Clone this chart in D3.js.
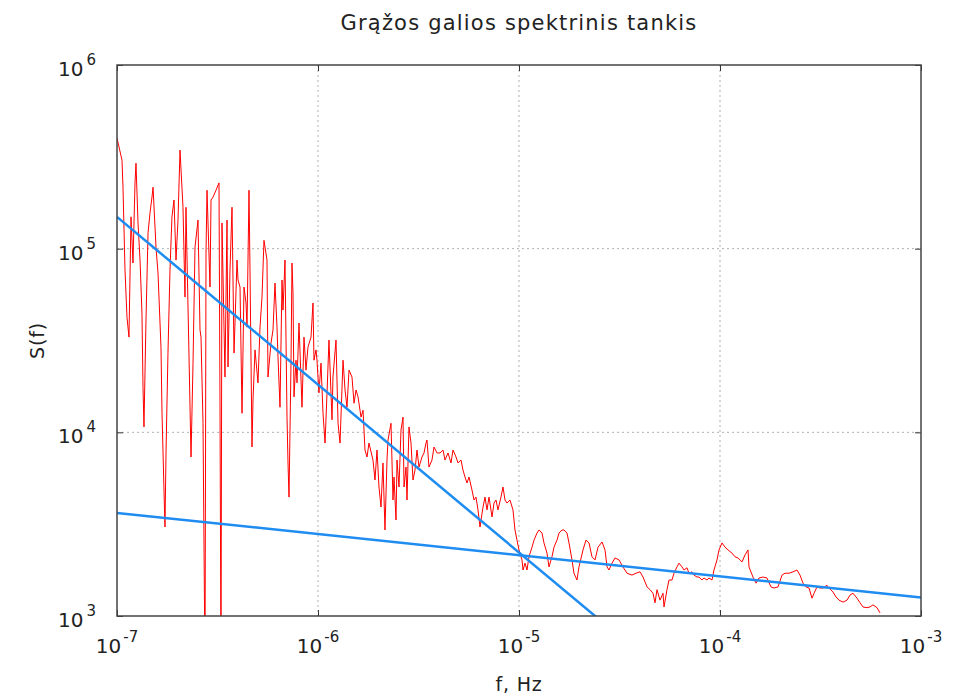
<!DOCTYPE html>
<html>
<head>
<meta charset="utf-8">
<script src="https://cdn.jsdelivr.net/npm/d3@7"></script>
<style>
  body { margin: 0; background: #fff; }
  text { font-family: "DejaVu Sans", Verdana, sans-serif; fill: #222; }
</style>
</head>
<body>
<div class="chart"></div>
<script>
// Spectrum (f in Hz, S(f))
var specFreq = [
  1.000e-7, 1.059e-7, 1.071e-7, 1.096e-7, 1.121e-7, 1.147e-7, 1.174e-7, 1.201e-7, 1.229e-7, 1.243e-7,
  1.272e-7, 1.302e-7, 1.331e-7, 1.347e-7, 1.362e-7, 1.394e-7, 1.427e-7, 1.459e-7, 1.493e-7, 1.511e-7,
  1.563e-7, 1.600e-7, 1.655e-7, 1.675e-7, 1.713e-7, 1.733e-7, 1.753e-7, 1.793e-7, 1.835e-7, 1.877e-7,
  1.921e-7, 1.966e-7, 2.011e-7, 2.058e-7, 2.130e-7, 2.179e-7, 2.204e-7, 2.282e-7, 2.335e-7, 2.389e-7,
  2.444e-7, 2.529e-7, 2.588e-7, 2.618e-7, 2.679e-7, 2.741e-7, 2.772e-7, 2.804e-7, 2.902e-7, 2.936e-7,
  3.004e-7, 3.108e-7, 3.217e-7, 3.253e-7, 3.291e-7, 3.329e-7, 3.445e-7, 3.526e-7, 3.566e-7, 3.649e-7,
  3.734e-7, 3.821e-7, 3.954e-7, 4.000e-7, 4.093e-7, 4.188e-7, 4.284e-7, 4.384e-7, 4.435e-7, 4.537e-7,
  4.589e-7, 4.695e-7, 4.750e-7, 4.860e-7, 5.029e-7, 5.146e-7, 5.265e-7, 5.386e-7, 5.575e-7, 5.639e-7,
  5.836e-7, 5.972e-7, 6.110e-7, 6.252e-7, 6.324e-7, 6.471e-7, 6.621e-7, 6.697e-7, 6.852e-7, 7.012e-7,
  7.092e-7, 7.174e-7, 7.340e-7, 7.424e-7, 7.510e-7, 7.596e-7, 7.771e-7, 7.861e-7, 8.043e-7, 8.325e-7,
  8.517e-7, 8.715e-7, 8.917e-7, 9.230e-7, 9.443e-7, 9.552e-7, 9.773e-7, 9.886e-7, 1.011e-6, 1.035e-6,
  1.059e-6, 1.084e-6, 1.109e-6, 1.134e-6, 1.174e-6, 1.187e-6, 1.229e-6, 1.258e-6, 1.287e-6, 1.332e-6,
  1.363e-6, 1.394e-6, 1.427e-6, 1.476e-6, 1.511e-6, 1.546e-6, 1.582e-6, 1.637e-6, 1.675e-6, 1.713e-6,
  1.753e-6, 1.793e-6, 1.877e-6, 1.921e-6, 1.966e-6, 2.011e-6, 2.058e-6, 2.105e-6, 2.154e-6, 2.204e-6,
  2.230e-6, 2.308e-6, 2.361e-6, 2.389e-6, 2.444e-6, 2.472e-6, 2.529e-6, 2.588e-6, 2.648e-6, 2.679e-6,
  2.741e-6, 2.772e-6, 2.836e-6, 2.902e-6, 2.969e-6, 3.038e-6, 3.108e-6, 3.180e-6, 3.291e-6, 3.368e-6,
  3.445e-6, 3.485e-6, 3.566e-6, 3.691e-6, 3.777e-6, 3.909e-6, 4.046e-6, 4.188e-6, 4.284e-6, 4.435e-6,
  4.589e-6, 4.695e-6, 4.860e-6, 4.973e-6, 5.146e-6, 5.265e-6, 5.386e-6, 5.511e-6, 5.639e-6, 5.836e-6,
  5.972e-6, 6.110e-6, 6.252e-6, 6.397e-6, 6.621e-6, 6.774e-6, 6.931e-6, 7.092e-6, 7.340e-6, 7.510e-6,
  7.684e-6, 7.861e-6, 8.135e-6, 8.325e-6, 8.517e-6, 8.715e-6, 9.020e-6, 9.334e-6, 9.552e-6, 9.773e-6,
  1.000e-5, 1.035e-5, 1.047e-5, 1.071e-5, 1.096e-5, 1.121e-5, 1.161e-5, 1.188e-5, 1.229e-5, 1.258e-5,
  1.302e-5, 1.331e-5, 1.378e-5, 1.410e-5, 1.459e-5, 1.493e-5, 1.546e-5, 1.582e-5, 1.637e-5, 1.675e-5,
  1.733e-5, 1.773e-5, 1.835e-5, 1.877e-5, 1.943e-5, 1.988e-5, 2.082e-5, 2.154e-5, 2.230e-5, 2.308e-5,
  2.389e-5, 2.472e-5, 2.588e-5, 2.679e-5, 2.741e-5, 2.804e-5, 2.902e-5, 3.004e-5, 3.145e-5, 3.291e-5,
  3.445e-5, 3.649e-5, 3.821e-5, 4.000e-5, 4.140e-5, 4.335e-5, 4.486e-5, 4.642e-5, 4.750e-5, 4.860e-5,
  5.029e-5, 5.205e-5, 5.265e-5, 5.448e-5, 5.575e-5, 5.770e-5, 5.904e-5, 6.110e-5, 6.252e-5, 6.471e-5,
  6.621e-5, 6.852e-5, 7.012e-5, 7.256e-5, 7.424e-5, 7.684e-5, 7.861e-5, 8.135e-5, 8.325e-5, 8.615e-5,
  8.816e-5, 9.124e-5, 9.334e-5, 9.663e-5, 9.886e-5, 1.023e-4, 1.059e-4, 1.096e-4, 1.147e-4, 1.188e-4,
  1.229e-4, 1.287e-4, 1.332e-4, 1.378e-4, 1.394e-4, 1.459e-4, 1.511e-4, 1.563e-4, 1.637e-4, 1.713e-4,
  1.793e-4, 1.857e-4, 1.943e-4, 2.035e-4, 2.105e-4, 2.204e-4, 2.308e-4, 2.416e-4, 2.500e-4, 2.588e-4,
  2.679e-4, 2.772e-4, 2.869e-4, 2.936e-4, 3.038e-4, 3.145e-4, 3.253e-4, 3.406e-4, 3.485e-4, 3.649e-4,
  3.777e-4, 3.909e-4, 4.093e-4, 4.284e-4, 4.435e-4, 4.589e-4, 4.805e-4, 4.973e-4, 5.146e-4, 5.386e-4,
  5.575e-4, 5.770e-4, 6.041e-4, 6.252e-4
];
var specPower = [
  4.00e5, 3.03e5, 2.16e5, 7.65e4, 4.24e4, 3.30e4, 1.49e5, 8.35e4, 2.28e5, 2.92e5,
  1.38e5, 8.67e4, 4.46e4, 1.76e4, 1.07e4, 4.09e4, 1.22e5, 1.56e5, 1.91e5, 2.16e5,
  1.02e5, 7.36e4, 2.91e4, 1.27e4, 4.85e3, 3.05e3, 7.72e3, 2.70e4, 7.65e4, 1.49e5,
  1.84e5, 8.67e4, 1.43e5, 3.44e5, 1.68e5, 5.45e4, 1.68e5, 2.57e4, 7.34e3, 2.38e4,
  1.02e5, 1.43e5, 3.61e4, 3.30e4, 1.12e4, 5.00e2, 9.46e4, 2.08e5, 6.18e4, 1.84e5,
  1.91e5, 2.08e5, 2.28e5, 1.56e4, 5.00e2, 1.38e5, 2.00e4, 1.43e5, 2.27e4, 7.65e4,
  1.68e5, 2.70e4, 8.67e4, 6.75e4, 6.18e4, 1.27e4, 6.18e4, 5.06e4, 3.74e4, 2.08e5,
  7.65e4, 8.32e3, 1.50e4, 2.81e4, 1.86e4, 3.74e4, 5.45e4, 1.11e5, 8.67e4, 2.00e4,
  3.06e4, 3.61e4, 6.50e4, 3.74e4, 2.57e4, 1.37e4, 6.75e4, 4.63e4, 8.67e4, 1.21e4,
  6.81e3, 4.44e3, 2.38e4, 8.35e4, 5.73e4, 1.56e4, 2.47e4, 1.86e4, 3.94e4, 1.37e4,
  3.30e4, 2.18e4, 2.91e4, 3.30e4, 5.06e4, 2.47e4, 2.81e4, 2.47e4, 1.64e4, 2.38e4,
  1.27e4, 8.74e3, 1.64e4, 3.18e4, 1.17e4, 2.00e4, 3.18e4, 1.12e4, 8.74e3, 2.47e4,
  1.70e4, 1.37e4, 2.18e4, 2.00e4, 1.44e4, 1.70e4, 1.56e4, 1.21e4, 1.32e4, 8.01e3,
  7.34e3, 8.74e3, 7.07e3, 5.50e3, 8.01e3, 5.04e3, 3.92e3, 6.81e3, 2.94e3, 7.07e3,
  9.08e3, 1.12e4, 4.28e3, 5.71e3, 3.33e3, 7.07e3, 5.04e3, 1.03e4, 1.21e4, 5.04e3,
  6.47e3, 4.28e3, 1.07e4, 8.74e3, 5.50e3, 6.23e3, 8.01e3, 6.47e3, 7.34e3, 7.72e3,
  8.74e3, 9.08e3, 6.47e3, 7.07e3, 8.32e3, 7.72e3, 7.72e3, 8.01e3, 7.07e3, 7.72e3,
  6.81e3, 8.01e3, 7.34e3, 6.81e3, 7.07e3, 6.23e3, 5.71e3, 5.30e3, 5.71e3, 4.85e3,
  4.28e3, 4.44e3, 3.78e3, 3.05e3, 3.92e3, 4.44e3, 3.78e3, 4.44e3, 3.46e3, 4.12e3,
  4.28e3, 3.78e3, 4.44e3, 5.04e3, 4.28e3, 4.12e3, 4.28e3, 3.78e3, 2.94e3, 2.59e3,
  2.29e3, 2.02e3, 1.78e3, 1.94e3, 1.78e3, 2.10e3, 2.37e3, 2.59e3, 2.83e3, 2.94e3,
  2.83e3, 2.50e3, 2.20e3, 1.85e3, 2.10e3, 2.37e3, 2.59e3, 2.83e3, 2.94e3, 2.94e3,
  2.83e3, 2.50e3, 2.02e3, 1.71e3, 1.57e3, 1.85e3, 2.29e3, 2.59e3, 2.50e3, 2.10e3,
  2.02e3, 2.37e3, 2.53e3, 2.29e3, 1.85e3, 1.78e3, 1.94e3, 2.07e3, 2.02e3, 1.85e3,
  1.71e3, 1.67e3, 1.71e3, 1.74e3, 1.63e3, 1.44e3, 1.39e3, 1.33e3, 1.18e3, 1.39e3,
  1.22e3, 1.33e3, 1.12e3, 1.39e3, 1.57e3, 1.57e3, 1.71e3, 1.85e3, 1.94e3, 1.85e3,
  1.78e3, 1.83e3, 1.71e3, 1.74e3, 1.67e3, 1.63e3, 1.63e3, 1.57e3, 1.61e3, 1.57e3,
  1.61e3, 1.57e3, 1.78e3, 2.02e3, 2.29e3, 2.50e3, 2.37e3, 2.29e3, 2.20e3, 2.10e3,
  2.07e3, 1.97e3, 2.15e3, 2.29e3, 1.85e3, 1.63e3, 1.51e3, 1.61e3, 1.63e3, 1.61e3,
  1.44e3, 1.42e3, 1.44e3, 1.67e3, 1.71e3, 1.71e3, 1.74e3, 1.78e3, 1.67e3, 1.51e3,
  1.44e3, 1.42e3, 1.25e3, 1.33e3, 1.44e3, 1.42e3, 1.42e3, 1.47e3, 1.42e3, 1.35e3,
  1.27e3, 1.22e3, 1.19e3, 1.22e3, 1.30e3, 1.33e3, 1.25e3, 1.18e3, 1.12e3, 1.11e3,
  1.12e3, 1.15e3, 1.11e3, 1.04e3
];

// Two power-law fit lines (end points)
var fitSteepFreq = [1e-7, 1e-3];
var fitSteepPower = [1.49e5, 33];
var fitFlatFreq = [1e-7, 1e-3];
var fitFlatPower = [3.64e3, 1.26e3];

// Axis ticks
var xTicks = [1e-7, 1e-6, 1e-5, 1e-4, 1e-3];
var xTickExp = ["-7", "-6", "-5", "-4", "-3"];
var yTicks = [1e3, 1e4, 1e5, 1e6];
var yTickExp = ["3", "4", "5", "6"];

var svgWidth = 959;
var svgHeight = 698;

var chartMargin = { top: 65, right: 38, bottom: 82, left: 117 };

var width = svgWidth - chartMargin.left - chartMargin.right;
var height = svgHeight - chartMargin.top - chartMargin.bottom;

var svg = d3.select(".chart")
    .append("svg")
    .attr("width", svgWidth)
    .attr("height", svgHeight);

var chart = svg.append("g")
    .attr("transform", `translate(${chartMargin.left}, ${chartMargin.top})`);

var xLogScale = d3.scaleLog().domain([1e-7, 1e-3]).range([0, width]);
var yLogScale = d3.scaleLog().domain([1e3, 1e6]).range([height, 0]);

chart.append("clipPath")
    .attr("id", "plot-clip")
    .append("rect")
    .attr("width", width)
    .attr("height", height);

// Dotted grid
chart.append("g")
    .selectAll("line")
    .data(xTicks.slice(1, -1))
    .enter()
    .append("line")
    .attr("x1", function(d) { return xLogScale(d); })
    .attr("x2", function(d) { return xLogScale(d); })
    .attr("y1", 0)
    .attr("y2", height)
    .attr("stroke", "#b0b0b0")
    .attr("stroke-width", 1)
    .attr("stroke-dasharray", "2,3");

chart.append("g")
    .selectAll("line")
    .data(yTicks.slice(1, -1))
    .enter()
    .append("line")
    .attr("x1", 0)
    .attr("x2", width)
    .attr("y1", function(d) { return yLogScale(d); })
    .attr("y2", function(d) { return yLogScale(d); })
    .attr("stroke", "#b0b0b0")
    .attr("stroke-width", 1)
    .attr("stroke-dasharray", "2,3");

// Lines
var specData = specFreq.map(function(f, i) { return { f: f, s: specPower[i] }; });
var steepData = fitSteepFreq.map(function(f, i) { return { f: f, s: fitSteepPower[i] }; });
var flatData = fitFlatFreq.map(function(f, i) { return { f: f, s: fitFlatPower[i] }; });

var lineGen = d3.line()
    .x(function(d) { return xLogScale(d.f); })
    .y(function(d) { return yLogScale(d.s); });

var plot = chart.append("g").attr("clip-path", "url(#plot-clip)");

plot.append("path")
    .datum(specData)
    .attr("d", lineGen)
    .attr("fill", "none")
    .attr("stroke", "#ff0000")
    .attr("stroke-width", 1)
    .attr("stroke-linejoin", "round");

plot.append("path")
    .datum(steepData)
    .attr("d", lineGen)
    .attr("fill", "none")
    .attr("stroke", "#1e8cf0")
    .attr("stroke-width", 2.5);

plot.append("path")
    .datum(flatData)
    .attr("d", lineGen)
    .attr("fill", "none")
    .attr("stroke", "#1e8cf0")
    .attr("stroke-width", 2.5);

// Ticks on all four sides, pointing inward
var tickLen = 6;
chart.append("g").call(d3.axisBottom(xLogScale).tickValues(xTicks).tickSize(-tickLen).tickFormat(""))
    .attr("transform", `translate(0, ${height})`);
chart.append("g").call(d3.axisTop(xLogScale).tickValues(xTicks).tickSize(-tickLen).tickFormat(""));
chart.append("g").call(d3.axisLeft(yLogScale).tickValues(yTicks).tickSize(-tickLen).tickFormat(""));
chart.append("g").call(d3.axisRight(yLogScale).tickValues(yTicks).tickSize(-tickLen).tickFormat(""))
    .attr("transform", `translate(${width}, 0)`);
chart.selectAll(".domain").remove();
chart.selectAll(".tick line").attr("stroke", "#333").attr("stroke-width", 1);

// Frame
chart.append("rect")
    .attr("width", width)
    .attr("height", height)
    .attr("fill", "none")
    .attr("stroke", "#444")
    .attr("stroke-width", 1.5);

// Tick labels with superscript exponents
var xLabels = chart.append("g")
    .selectAll("text")
    .data(xTicks)
    .enter()
    .append("text")
    .attr("x", function(d) { return xLogScale(d); })
    .attr("y", height + 37)
    .attr("text-anchor", "middle")
    .style("font-size", "20px");
xLabels.append("tspan").text("10");
xLabels.append("tspan")
    .attr("dy", -11)
    .attr("dx", 2)
    .style("font-size", "15px")
    .text(function(d, i) { return xTickExp[i]; });

var yLabels = chart.append("g")
    .selectAll("text")
    .data(yTicks)
    .enter()
    .append("text")
    .attr("x", -21)
    .attr("y", function(d) { return yLogScale(d) + 11; })
    .attr("text-anchor", "end")
    .style("font-size", "20px");
yLabels.append("tspan").text("10");
yLabels.append("tspan")
    .attr("dy", -11)
    .attr("dx", 3)
    .style("font-size", "15px")
    .text(function(d, i) { return yTickExp[i]; });

// Title and axis labels
svg.append("text")
    .attr("x", chartMargin.left + width / 2)
    .attr("y", 30)
    .attr("text-anchor", "middle")
    .style("font-size", "21px")
    .style("letter-spacing", "1.2px")
    .text("Grąžos galios spektrinis tankis");

svg.append("text")
    .attr("transform", `translate(44, ${chartMargin.top + height / 2}) rotate(-90)`)
    .attr("text-anchor", "middle")
    .style("font-size", "19px")
    .style("letter-spacing", "0.8px")
    .text("S(f)");

svg.append("text")
    .attr("x", chartMargin.left + width / 2)
    .attr("y", 691)
    .attr("text-anchor", "middle")
    .style("font-size", "19px")
    .style("letter-spacing", "0.8px")
    .text("f, Hz");
</script>
</body>
</html>
